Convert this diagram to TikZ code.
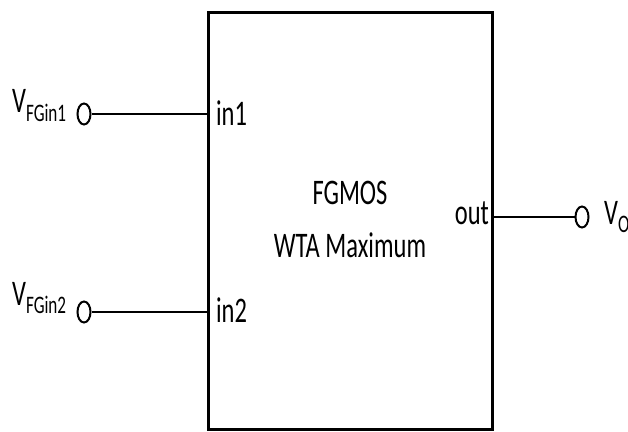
\documentclass[tikz,border=0pt]{standalone}
\usepackage{fontspec}
\setmainfont{Carlito}
\usepackage{tikz}
\usetikzlibrary{shapes.geometric, positioning, calc}

\begin{document}
\begin{tikzpicture}[
  x=1pt, y=1pt,
  every node/.style={font=\fontsize{36}{46}\selectfont},
  squeezed/.style={xscale=0.68, transform shape, inner sep=0pt},
  block/.style={rectangle, draw=black, line width=3pt, minimum width=284pt, minimum height=416pt, inner sep=0pt},
  terminal/.style={ellipse, draw=black, line width=2pt, minimum width=13pt, minimum height=21pt, inner sep=0pt},
  wire/.style={line width=2.2pt}
]
\useasboundingbox (0,0) rectangle (628,431);

% WTA block with its title
\node[block] (wta) at (350,210) {};
\node[squeezed, anchor=base] (title1) at (350,226) {FGMOS};
\node[squeezed, anchor=base] (title2) at (350,173) {WTA Maximum};

% Ports
\node[squeezed, anchor=base west] (pin1) at (216,305) {in1};
\node[squeezed, anchor=base west] (pin2) at (216,109) {in2};
\node[squeezed, anchor=base east] (pout) at (489,206) {out};

% Terminals
\node[terminal] (tin1) at (84,317) {};
\node[terminal] (tin2) at (84,119) {};
\node[terminal] (tout) at (582,214) {};
\node[squeezed, anchor=base west] (vin1) at (12,318) {V\textsubscript{FGin1}};
\node[squeezed, anchor=base west] (vin2) at (12,126) {V\textsubscript{FGin2}};
\node[squeezed, anchor=base west] (vo) at (604,206) {V\textsubscript{O}};

% Wires
\draw[wire] (tin1.east) -- (wta.west |- tin1);
\draw[wire] (tin2.east) -- (wta.west |- tin2);
\draw[wire] (wta.east |- tout) -- (tout.west);

\end{tikzpicture}
\end{document}
